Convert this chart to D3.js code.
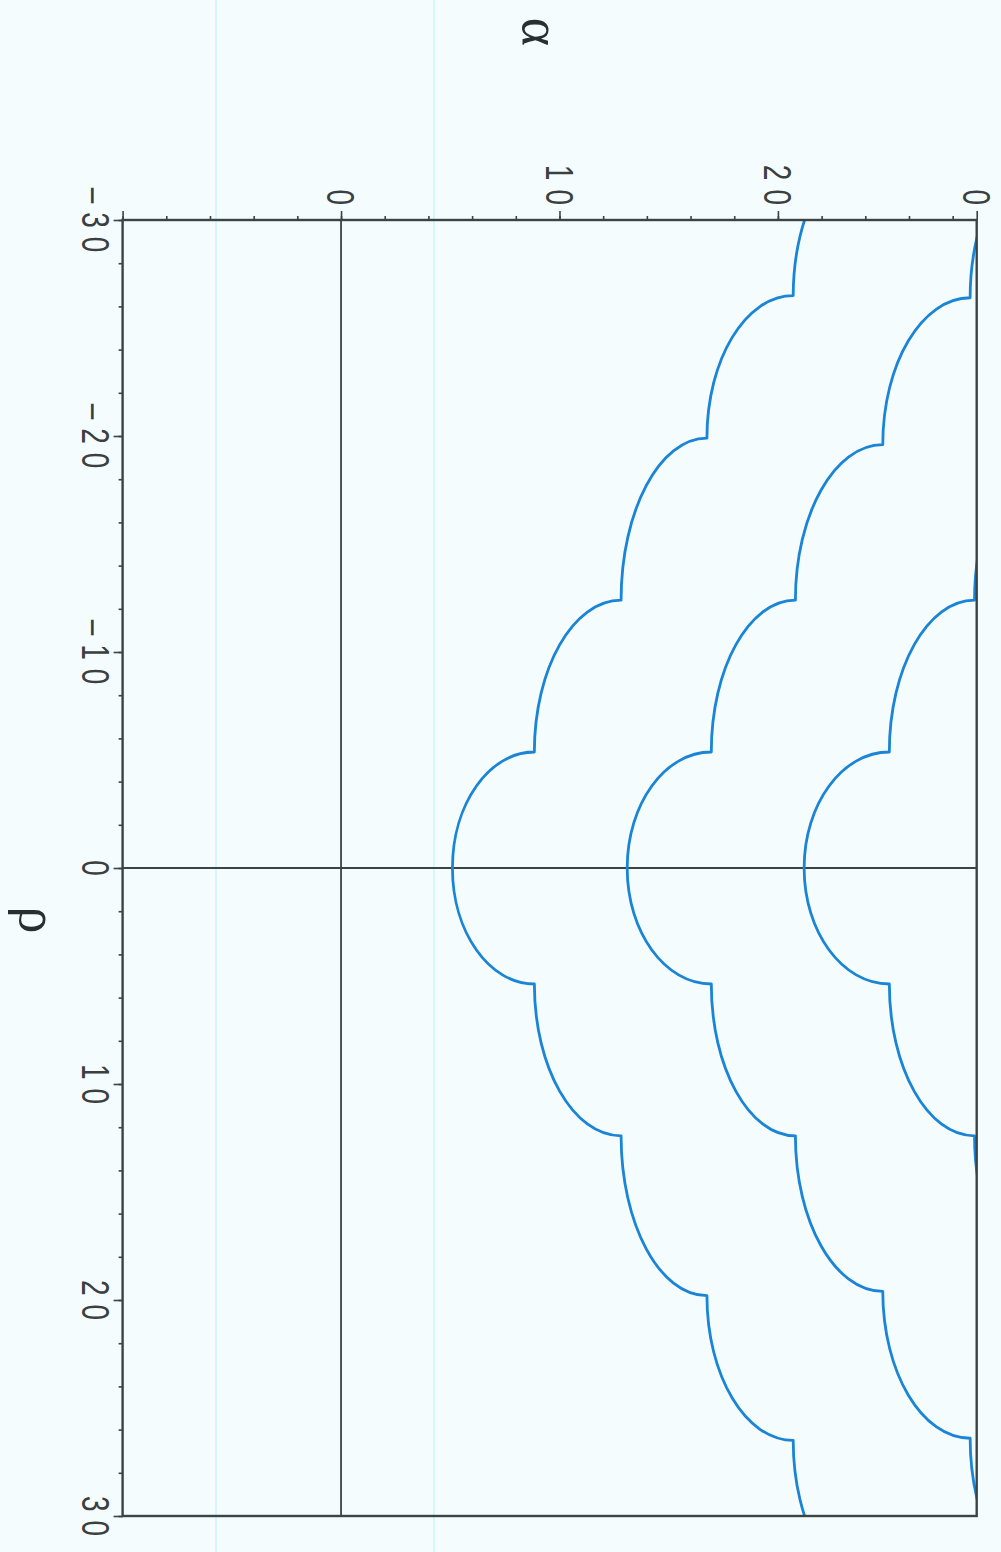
<!DOCTYPE html>
<html>
<head>
<meta charset="utf-8">
<script src="https://cdn.jsdelivr.net/npm/d3@7"></script>
<style>
  html, body { margin: 0; padding: 0; background: #f5fcfd; }
  svg { display: block; }
  .tick-label { font-family: "Liberation Sans", Arial, sans-serif; font-size: 28px; fill: #3a4040; letter-spacing: 9px; }
  .greek { font-family: "Liberation Serif", "DejaVu Serif", serif; font-size: 54px; fill: #263030; }
</style>
</head>
<body>
<div id="chart"></div>
<script>
// Eixos: rho (vertical na imagem) e alpha (horizontal na imagem), grafico girado 90 graus
const rhoDomain = [-30, 30];
const alphaDomain = [-10, 29.1];

const rhoMajor = [-30, -20, -10, 0, 10, 20, 30];
const rhoLabels = ["\u201330", "\u201320", "\u201310", "0", "10", "20", "30"];
const alphaMajor = [-10, 0, 10, 20, 29.1];
const alphaLabelValues = [0, 10, 20, 29.1];
const alphaLabels = ["0", "10", "20", "0"];

// Pontos de quebra (cuspides) de cada curva: [rho, alpha]
const curve1 = [[-33.5, 24.6], [-26.5, 20.7], [-19.9, 16.75], [-12.4, 12.82], [-5.37, 8.85], [0, 5.1],
                [5.37, 8.85], [12.4, 12.82], [19.8, 16.75], [26.5, 20.7], [33.5, 24.6]];
const curve2 = [[-33.5, 32.7], [-26.4, 28.8], [-19.6, 24.8], [-12.4, 20.8], [-5.37, 16.95], [0, 13.1],
                [5.37, 16.95], [12.4, 20.8], [19.6, 24.8], [26.4, 28.8], [33.5, 32.7]];
const curve3 = [[-19.7, 33.0], [-12.4, 29.0], [-5.37, 25.1], [0, 21.2],
                [5.37, 25.1], [12.4, 29.0], [19.7, 33.0]];
const curves = [curve1, curve2, curve3];

const width = 1001, height = 1552;
const margin = {top: 220, right: 24.3, bottom: 36, left: 122.6};

const svg = d3.select("#chart").append("svg")
  .attr("width", width)
  .attr("height", height);

// Escalas (alpha -> x da tela, rho -> y da tela)
const x = d3.scaleLinear().domain(alphaDomain).range([margin.left, width - margin.right]);
const y = d3.scaleLinear().domain(rhoDomain).range([margin.top, height - margin.bottom]);

// linhas claras do scanner
svg.append("g").selectAll("line")
  .data([216, 434])
  .join("line")
  .attr("x1", d => d).attr("x2", d => d)
  .attr("y1", 0).attr("y2", height)
  .attr("stroke", "#c4f0fa")
  .attr("stroke-width", 1.2);

// Curva: quarto de elipse entre cada par de pontos
// tangente vertical no ponto mais proximo de rho=0, horizontal no outro
function quarterCurve(yZero) {
  const k = 0.5523;
  return function(context) {
    let pts;
    return {
      areaStart() {}, areaEnd() {},
      lineStart() { pts = []; },
      point(px, py) { pts.push([+px, +py]); },
      lineEnd() {
        if (!pts.length) return;
        context.moveTo(pts[0][0], pts[0][1]);
        for (let i = 1; i < pts.length; i++) {
          const [px, py] = pts[i - 1], [qx, qy] = pts[i];
          if (Math.abs(py - yZero) < Math.abs(qy - yZero)) {
            context.bezierCurveTo(px, py + k * (qy - py), qx - k * (qx - px), qy, qx, qy);
          } else {
            context.bezierCurveTo(px + k * (qx - px), py, qx, qy - k * (qy - py), qx, qy);
          }
        }
      }
    };
  };
}

svg.append("clipPath").attr("id", "plot-clip")
  .append("rect")
  .attr("x", margin.left)
  .attr("y", margin.top)
  .attr("width", width - margin.left - margin.right)
  .attr("height", height - margin.top - margin.bottom);

const line = d3.line()
  .x(d => x(d[1]))
  .y(d => y(d[0]))
  .curve(quarterCurve(y(0)));

// eixos internos alpha=0 e rho=0
svg.append("line")
  .attr("x1", x(0)).attr("x2", x(0))
  .attr("y1", y(-30)).attr("y2", y(30))
  .attr("stroke", "#3c4343").attr("stroke-width", 1.8);
svg.append("line")
  .attr("x1", x(alphaDomain[0])).attr("x2", x(alphaDomain[1]))
  .attr("y1", y(0)).attr("y2", y(0))
  .attr("stroke", "#3c4343").attr("stroke-width", 1.8);

svg.append("g")
  .attr("clip-path", "url(#plot-clip)")
  .selectAll("path")
  .data(curves)
  .join("path")
  .attr("d", line)
  .attr("fill", "none")
  .attr("stroke", "#1a84d6")
  .attr("stroke-width", 2.8)
  .attr("stroke-linejoin", "round");

// Moldura
svg.append("rect")
  .attr("x", margin.left)
  .attr("y", margin.top)
  .attr("width", width - margin.left - margin.right)
  .attr("height", height - margin.top - margin.bottom)
  .attr("fill", "none")
  .attr("stroke", "#3c4343")
  .attr("stroke-width", 2.4);

// Ticks do topo (alpha) e da esquerda (rho)
const alphaMinor = d3.range(-10, 29, 2);
const rhoMinor = d3.range(-30, 31, 2);

function styleAxis(g) {
  g.select(".domain").remove();
  g.selectAll(".tick line").attr("stroke", "#3c4343").attr("stroke-width", 1.6);
}

svg.append("g")
  .attr("transform", `translate(0,${margin.top})`)
  .call(d3.axisTop(x).tickValues(alphaMinor).tickSize(4).tickFormat(""))
  .call(styleAxis);
svg.append("g")
  .attr("transform", `translate(0,${margin.top})`)
  .call(d3.axisTop(x).tickValues(alphaMajor).tickSize(9).tickFormat(""))
  .call(styleAxis);
svg.append("g")
  .attr("transform", `translate(${margin.left},0)`)
  .call(d3.axisLeft(y).tickValues(rhoMinor).tickSize(4).tickFormat(""))
  .call(styleAxis);
svg.append("g")
  .attr("transform", `translate(${margin.left},0)`)
  .call(d3.axisLeft(y).tickValues(rhoMajor).tickSize(9).tickFormat(""))
  .call(styleAxis);

// Rotulos girados 90 graus
svg.append("g").selectAll("text")
  .data(alphaLabelValues)
  .join("text")
  .attr("class", "tick-label")
  .attr("text-anchor", "end")
  .attr("transform", d => `translate(${x(d) - 13.8},214) rotate(90) scale(1,1.38)`)
  .text((d, i) => alphaLabels[i]);

svg.append("g").selectAll("text")
  .data(rhoMajor)
  .join("text")
  .attr("class", "tick-label")
  .attr("text-anchor", "middle")
  .attr("transform", d => `translate(81.5,${y(d) + 4.5}) rotate(90) scale(1,1.38)`)
  .text((d, i) => rhoLabels[i]);

// Titulos dos eixos
svg.append("text")
  .attr("class", "greek")
  .attr("text-anchor", "middle")
  .attr("transform", `translate(523,32) rotate(90)`)
  .text("\u03b1");

svg.append("text")
  .attr("class", "greek")
  .attr("text-anchor", "middle")
  .attr("transform", `translate(20,920) rotate(90)`)
  .text("\u03c1");
</script>
</body>
</html>
